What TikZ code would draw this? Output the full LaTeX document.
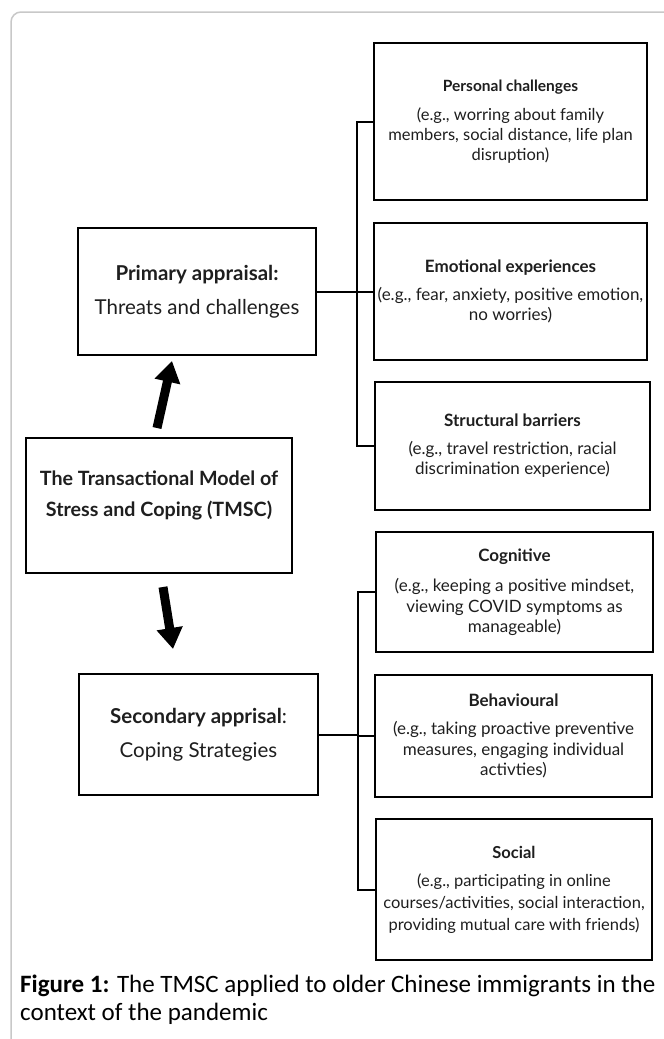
\documentclass[tikz,border=0pt]{standalone}
\usepackage{fontspec}
\setmainfont{Lato}
\newfontfamily\capfont{Carlito}
\usetikzlibrary{arrows.meta}

\definecolor{framegray}{RGB}{200,200,200}
\definecolor{inkgray}{RGB}{30,30,30}

\begin{document}
\begin{tikzpicture}[x=1pt,y=-1pt,
    box/.style={draw=black, line width=2.2pt, inner sep=0pt, align=center, text=inkgray},
    leftbox/.style={box, font=\fontsize{20.5}{34}\selectfont},
    rightbox/.style={box, font=\fontsize{17}{20.5}\selectfont},
    link/.style={draw=black, line width=2pt},
    bigarrow/.style={line width=9pt, -{Triangle[width=25pt,length=21pt]}}]
    \useasboundingbox (0,0) rectangle (664,1039);
    \clip (0,0) rectangle (664,1039);

    % Draw the page frame
    \draw[framegray, line width=1.5pt, rounded corners=10pt] (700,12) -- (11,12) -- (11,1080);

    % Draw the left column
    \node[leftbox, minimum width=238pt, minimum height=127pt] (prim) at (197,291.5)
        {\textbf{Primary appraisal:}\\ Threats and challenges};
    \node[leftbox, font=\fontsize{19.7}{31}\selectfont, minimum width=266pt, minimum height=135pt] (tmsc) at (159,505.5)
        {\textbf{The Transactional Model of}\\ \textbf{Stress and Coping (TMSC)}\\[-8pt] \mbox{}};
    \node[leftbox, minimum width=239pt, minimum height=121pt] (sec) at (198.5,734.5)
        {\textbf{Secondary apprisal}:\\ Coping Strategies};

    % Draw the appraisal boxes on the right
    \node[rightbox, font=\fontsize{16.5}{20}\selectfont, minimum width=273pt, minimum height=157pt] (pc) at (510.5,121.5)
        {{\fontsize{15.5}{20}\selectfont\textbf{Personal challenges}}\\[9pt] (e.g., worring about family\\ members, social distance, life plan\\ disruption)};
    \node[rightbox, minimum width=273pt, minimum height=137pt] (emo) at (510.5,291.5)
        {\textbf{Emotional experiences}\\[7pt] (e.g., fear, anxiety, positive emotion,\\ no worries)};
    \node[rightbox, minimum width=275pt, minimum height=128pt] (str) at (512.5,446)
        {\textbf{Structural barriers}\\[7pt] (e.g., travel restriction, racial\\ discrimination experience)};

    % Draw the coping boxes on the right
    \node[rightbox, minimum width=277pt, minimum height=120pt] (cog) at (514.5,592)
        {\textbf{Cognitive}\\[10pt] (e.g., keeping a positive mindset,\\ viewing COVID symptoms as\\ manageable)};
    \node[rightbox, minimum width=277pt, minimum height=122pt] (beh) at (513.5,736)
        {\textbf{Behavioural}\\[8pt] (e.g., taking proactive preventive\\ measures, engaging individual\\ activties)};
    \node[rightbox, font=\fontsize{16.5}{22}\selectfont, minimum width=276pt, minimum height=141pt] (soc) at (514,889.5)
        {\textbf{Social}\\[6pt] (e.g., participating in online\\ courses/activities, social interaction,\\ providing mutual care with friends)};

    % Draw the brackets
    \coordinate (upbar) at (357,0);
    \coordinate (lowbar) at (358,0);
    \draw[link] (prim.east) -- (emo.west);
    \draw[link] (pc.west) -| (upbar |- str.west) -- (str.west);
    \draw[link] (sec.east) -- (sec.east -| lowbar) -- (lowbar |- beh.west) -- (beh.west);
    \draw[link] (cog.west) -| (lowbar |- soc.west) -- (soc.west);

    % Draw the thick arrows
    \coordinate (upfrom) at (157,428);
    \coordinate (upto) at (172,361);
    \coordinate (downfrom) at (163,587);
    \coordinate (downto) at (173,649);
    \draw[bigarrow] (upfrom) -- (upto);
    \draw[bigarrow] (downfrom) -- (downto);

    % Draw the caption
    \node[anchor=west, inner sep=0pt, font=\capfont\fontsize{25}{30}\selectfont] (cap1) at (20,986)
        {\textbf{Figure 1:} The TMSC applied to older Chinese immigrants in the};
    \node[anchor=west, inner sep=0pt, font=\capfont\fontsize{25}{30}\selectfont] (cap2) at (20,1014)
        {context of the pandemic};
\end{tikzpicture}
\end{document}
